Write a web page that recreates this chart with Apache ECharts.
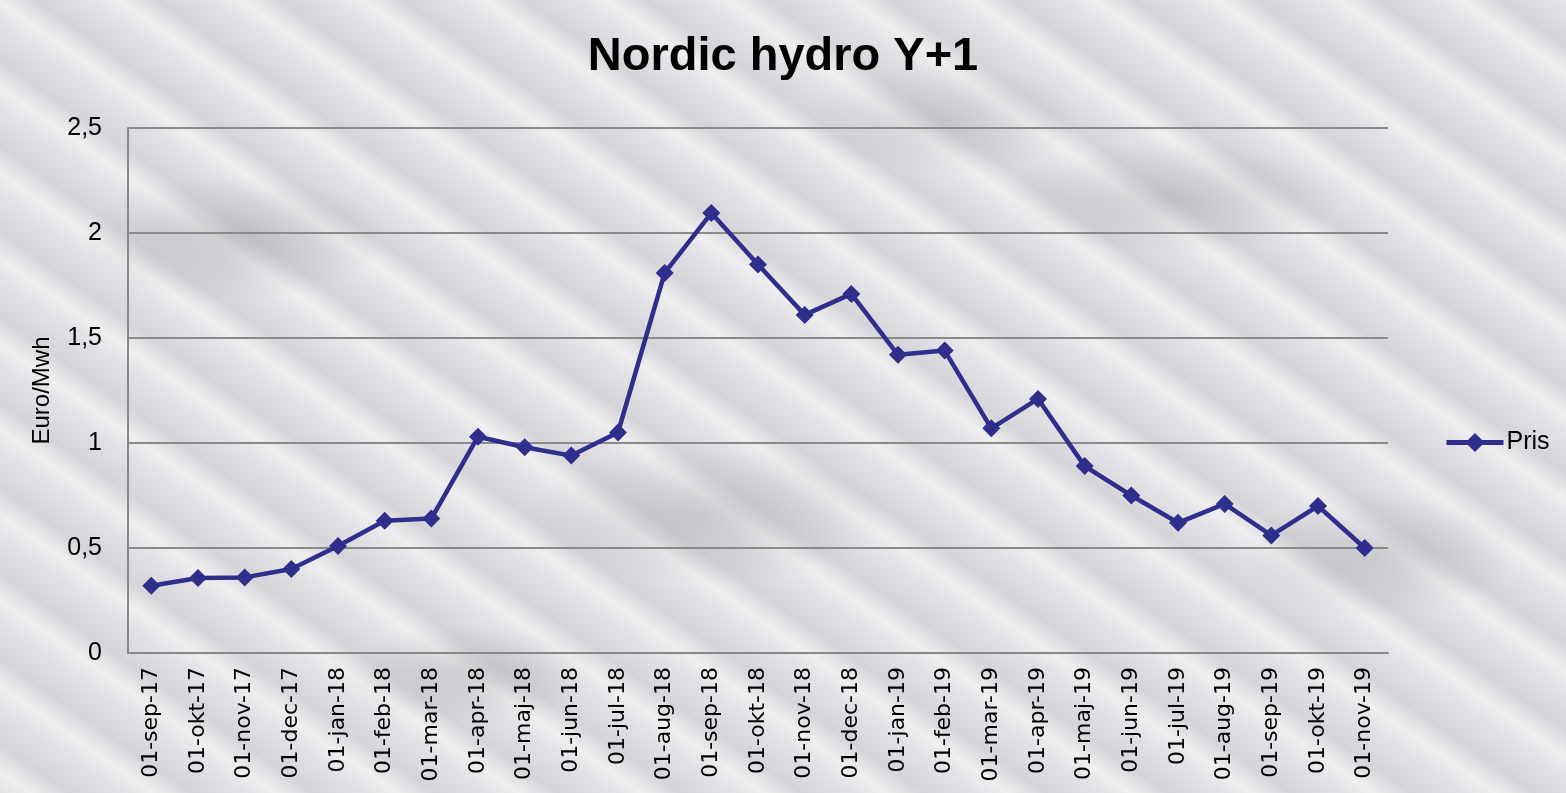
<!DOCTYPE html>
<html>
<head>
<meta charset="utf-8">
<script src="https://cdn.jsdelivr.net/npm/echarts@6/dist/echarts.min.js"></script>
<style>
html,body{margin:0;padding:0;}
body{
  width:1566px;height:793px;
  background-color:#e2e2e6;
  background-image:
    radial-gradient(ellipse 220px 90px at 15% 30%, rgba(140,140,145,0.35), rgba(0,0,0,0) 70%),
    radial-gradient(ellipse 260px 100px at 45% 65%, rgba(140,140,145,0.30), rgba(0,0,0,0) 70%),
    radial-gradient(ellipse 240px 80px at 75% 25%, rgba(140,140,145,0.30), rgba(0,0,0,0) 70%),
    radial-gradient(ellipse 200px 90px at 88% 70%, rgba(140,140,145,0.30), rgba(0,0,0,0) 70%),
    radial-gradient(ellipse 180px 70px at 30% 85%, rgba(140,140,145,0.30), rgba(0,0,0,0) 70%),
    radial-gradient(ellipse 200px 80px at 60% 15%, rgba(140,140,145,0.25), rgba(0,0,0,0) 70%),
    repeating-linear-gradient(35deg, rgba(255,255,255,0.0) 0px, rgba(255,255,255,0.45) 18px, rgba(160,160,165,0.2) 40px, rgba(255,255,255,0.0) 70px);
}
#chart{width:1566px;height:793px;}
</style>
</head>
<body>
<div id="chart"></div>
<script>
var categories = ['01-sep-17','01-okt-17','01-nov-17','01-dec-17','01-jan-18','01-feb-18','01-mar-18','01-apr-18','01-maj-18','01-jun-18','01-jul-18','01-aug-18','01-sep-18','01-okt-18','01-nov-18','01-dec-18','01-jan-19','01-feb-19','01-mar-19','01-apr-19','01-maj-19','01-jun-19','01-jul-19','01-aug-19','01-sep-19','01-okt-19','01-nov-19'];
var pris = [0.32,0.357,0.36,0.40,0.51,0.63,0.64,1.03,0.98,0.94,1.05,1.81,2.095,1.85,1.61,1.71,1.42,1.44,1.07,1.21,0.89,0.75,0.62,0.71,0.56,0.70,0.50];
var yTicks = {min:0, max:2.5, interval:0.5};

var chart = echarts.init(document.getElementById('chart'), null, {renderer:'canvas'});
chart.setOption({
  backgroundColor:'transparent',
  animation:false,
  title:{
    text:'Nordic hydro Y+1',
    left:'center', top:29,
    textStyle:{fontFamily:'Liberation Sans, Arial, sans-serif', fontSize:47, fontWeight:'bold', color:'#000'}
  },
  legend:{
    data:['Pris'],
    left:1439, top:425,
    itemWidth:57, itemHeight:24,
    itemGap:4,
    lineStyle:{width:5},
    textStyle:{fontFamily:'Liberation Sans, Arial, sans-serif', fontSize:25, color:'#000', padding:[0,0,0,-2]}
  },
  grid:{left:128, right:178, top:128, bottom:140},
  xAxis:{
    type:'category',
    data:categories,
    boundaryGap:true,
    axisLine:{lineStyle:{color:'#888', width:2}},
    axisTick:{show:false},
    axisLabel:{rotate:90, fontFamily:'DejaVu Sans, sans-serif', fontSize:22, color:'#000', margin:14, interval:0}
  },
  yAxis:{
    type:'value',
    min:yTicks.min, max:yTicks.max, interval:yTicks.interval,
    name:'Euro/Mwh',
    nameLocation:'middle',
    nameGap:74,
    nameRotate:90,
    nameTextStyle:{fontFamily:'Liberation Sans, Arial, sans-serif', fontSize:24, color:'#000'},
    axisLine:{show:true, lineStyle:{color:'#888', width:2}},
    axisTick:{show:false},
    splitLine:{lineStyle:{color:'#8a8a8a', width:2}},
    axisLabel:{fontFamily:'Liberation Sans, Arial, sans-serif', fontSize:25, color:'#000', margin:26,
      formatter:function(v){return String(v).replace('.',',');}}
  },
  series:[{
    name:'Pris',
    type:'line',
    data:pris,
    symbol:'diamond',
    symbolSize:18,
    lineStyle:{color:'#2e2e8c', width:4.5},
    itemStyle:{color:'#2e2e8c'},
    z:5
  }]
});
</script>
</body>
</html>
